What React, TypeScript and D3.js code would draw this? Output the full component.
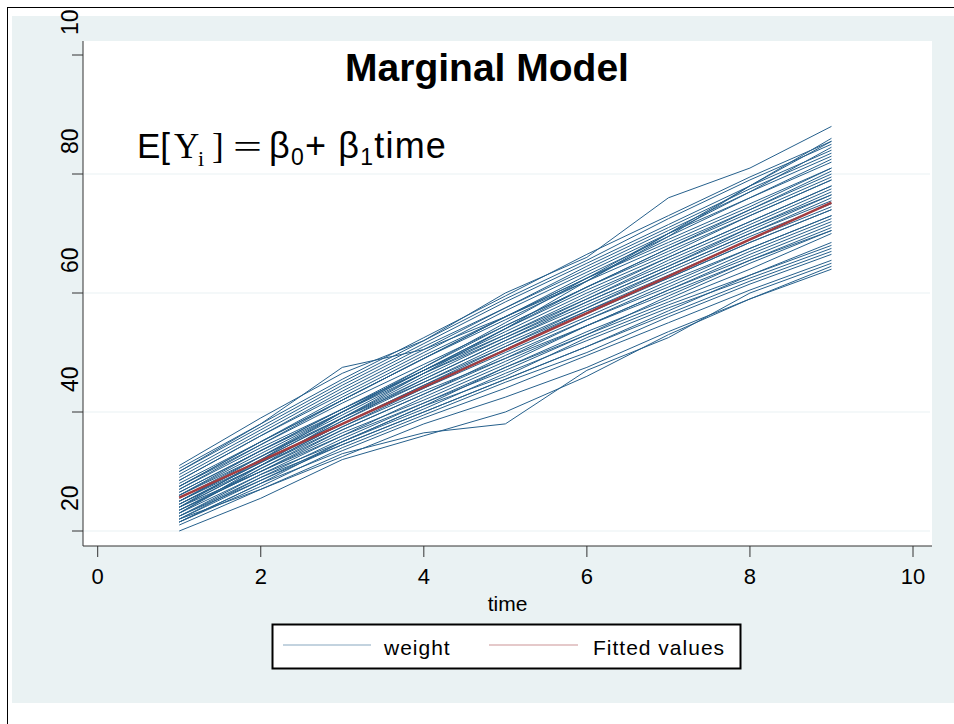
import React from "react";
import * as d3 from "d3";

// weeks measured for every pig
const weeks = [1, 2, 3, 4, 5, 6, 7, 8, 9];

// weight per pig, one row per animal
const pigWeights: number[][] = [
  [20, 25.5, 32, 36, 40, 46, 53, 59, 64],
  [21, 27, 32.5, 38, 42.5, 47.5, 53.5, 59, 64.5],
  [22, 27, 33, 36.5, 38, 47, 52.5, 60, 65],
  [21.5, 28, 33.5, 39, 44, 49.5, 55, 60.5, 65.5],
  [21.5, 27.5, 34, 39.5, 45, 50, 56, 61.5, 66.5],
  [22.5, 28.5, 34.5, 40, 45.5, 51, 56.5, 62, 67],
  [21.5, 28, 35, 40.5, 46.5, 52, 57.5, 62.5, 67.5],
  [23, 29.5, 35, 41, 46, 52.5, 58, 63, 68],
  [22, 29, 34.5, 40, 45.5, 51, 57, 63, 68.5],
  [24, 30, 36, 41.5, 47, 53, 58.5, 64, 70],
  [22.5, 29, 35.5, 41.5, 47.5, 53.5, 59, 65, 70.5],
  [22, 28.5, 35, 41, 47.5, 53, 59.5, 65.5, 70.5],
  [23.5, 30, 36.5, 42, 48, 54.5, 60, 65.5, 71],
  [24.5, 31, 37.5, 43.5, 49, 54.5, 60.5, 66, 71.5],
  [22.5, 29.5, 36, 42.5, 48.5, 54.5, 60.5, 66.5, 72],
  [23.5, 30, 37, 43, 49.5, 55.5, 61, 67, 72.5],
  [25, 31.5, 38, 44, 50, 56, 62, 67.5, 73],
  [23, 30.5, 37, 43, 49, 55.5, 61.5, 67.5, 73],
  [24, 31, 38, 44.5, 50.5, 56.5, 62.5, 68.5, 74],
  [26, 32.5, 39, 45, 51, 57, 62.5, 68.5, 74],
  [23.5, 30.5, 37.5, 44, 50.5, 57, 63, 69, 74.5],
  [24.5, 31.5, 38.5, 45, 51.5, 57.5, 63.5, 69.5, 75],
  [25, 32, 39, 45.5, 52, 58, 64, 70, 75.5],
  [24, 31, 38, 44.5, 51, 57.5, 64, 70, 76],
  [26.5, 33.5, 40, 46.5, 52.5, 58.5, 64.5, 70.5, 76.5],
  [24.5, 31.5, 38.5, 45.5, 52, 58.5, 64.5, 71, 76.5],
  [27, 34, 40.5, 47, 53, 59, 65, 71, 77],
  [25, 32, 39, 46, 52.5, 59, 65.5, 71.5, 77.5],
  [25.5, 32.5, 39.5, 46.5, 53, 59.5, 66, 72, 78],
  [26.5, 33.5, 40.5, 47, 53.5, 60, 66, 72, 78],
  [26, 33, 40, 47, 54, 60.5, 66.5, 73, 79],
  [27.5, 34.5, 41.5, 48, 54.5, 61, 67, 73, 79],
  [26, 33.5, 40.5, 47.5, 54.5, 61, 67.5, 73.5, 79.5],
  [27.5, 35, 42, 49, 55.5, 62, 68, 74, 80],
  [25, 32.5, 40, 47, 54, 61, 67.5, 74, 80.5],
  [28, 35, 42.5, 49.5, 56, 62.5, 68.5, 74.5, 81],
  [27.5, 35, 42, 49, 56, 62.5, 69, 75, 81],
  [28.5, 36, 43, 50, 57, 63.5, 70, 76, 82],
  [27, 34.5, 42, 49, 56, 63, 69.5, 76, 82.5],
  [29, 36.5, 44, 51, 57.5, 64, 70.5, 77, 83],
  [28.5, 36, 43.5, 50.5, 57.5, 64.5, 71, 77.5, 83.5],
  [29.5, 37, 44.5, 51.5, 58.5, 65, 71.5, 78, 84],
  [30, 38, 47.5, 50.5, 56, 62, 70, 77, 84.5],
  [30, 37.5, 45, 52, 59, 65.5, 72.5, 79, 85],
  [30.5, 38, 45.5, 52.5, 59.5, 66.5, 73, 79.5, 85.5],
  [24, 32, 40, 47.5, 55, 62.5, 70, 78, 85.5],
  [23, 31, 39, 46.5, 54, 62, 69.5, 78, 86],
  [31, 39, 46.5, 52, 60, 66, 76, 81, 88],
];

// fitted regression line ends
const fittedWeeks = [1, 9];
const fittedValues = [25.6, 75.2];

const xTicks = [0, 2, 4, 6, 8, 10];
const yTicks = [20, 40, 60, 80, 100];
const yGrid = [20, 40, 60, 80];

const SANS = "'Liberation Sans', Arial, Helvetica, sans-serif";
const SERIF = "'Liberation Serif', 'Times New Roman', serif";
const BLUE = "#26608c";
const RED = "#a33c3f";
const BG = "#eaf2f3";

export default function App() {
  const width = 954;
  const height = 724;
  const plot = { left: 83, top: 41, right: 932, bottom: 546 };

  const x = d3.scaleLinear().domain([0, 10]).range([97.7, 913]);
  const y = d3.scaleLinear().domain([20, 100]).range([531, 55]);

  const line = d3
    .line<[number, number]>()
    .x((d) => x(d[0]))
    .y((d) => y(d[1]));

  return (
    <svg
      width={width}
      height={height}
      style={{ position: "absolute", left: 0, top: 0, display: "block" }}
      fontFamily={SANS}
    >
      <defs>
        <clipPath id="frame">
          <rect x={8} y={10} width={width - 8} height={height - 10} />
        </clipPath>
      </defs>
      <rect width={width} height={height} fill="#fff" />
      <line x1={7} x2={width} y1={7.5} y2={7.5} stroke="#000" />
      <line x1={7.5} x2={7.5} y1={7} y2={height} stroke="#000" />

      <g clipPath="url(#frame)">
        <rect x={12} y={16} width={width - 12} height={687} fill={BG} />
        <rect
          x={plot.left}
          y={plot.top}
          width={plot.right - plot.left}
          height={plot.bottom - plot.top}
          fill="#fff"
        />

        {/* grid */}
        {yGrid.map((v) => (
          <line
            key={"g" + v}
            x1={plot.left}
            x2={plot.right - 2}
            y1={y(v)}
            y2={y(v)}
            stroke={BG}
            strokeWidth={1.2}
          />
        ))}

        {/* pig trajectories */}
        <g fill="none" stroke={BLUE} strokeWidth={1}>
          {pigWeights.map((row, i) => (
            <path key={i} d={line(weeks.map((w, j) => [w, row[j]]))!} />
          ))}
        </g>
        <path
          d={line(fittedWeeks.map((w, j) => [w, fittedValues[j]]))!}
          fill="none"
          stroke={RED}
          strokeWidth={2.4}
        />

        {/* axes */}
        <line x1={plot.left} x2={plot.left} y1={plot.top} y2={plot.bottom} stroke="#333" />
        <line x1={plot.left} x2={plot.right} y1={plot.bottom} y2={plot.bottom} stroke="#333" />
        {yTicks.map((v) => (
          <g key={"y" + v}>
            <line x1={72} x2={plot.left} y1={y(v)} y2={y(v)} stroke="#333" />
            <text
              transform={`translate(78,${y(v) - 20}) rotate(-90)`}
              textAnchor="start"
              fontSize={23}
              fill="#000"
            >
              {v}
            </text>
          </g>
        ))}
        {xTicks.map((v) => (
          <g key={"x" + v}>
            <line x1={x(v)} x2={x(v)} y1={plot.bottom} y2={plot.bottom + 11} stroke="#333" />
            <text x={x(v)} y={584} textAnchor="middle" fontSize={22} fill="#000">
              {v}
            </text>
          </g>
        ))}
        <text x={(plot.left + plot.right) / 2} y={611} textAnchor="middle" fontSize={21}>
          time
        </text>

        {/* titles */}
        <text x={487} y={81} textAnchor="middle" fontSize={39} fontWeight="bold">
          Marginal Model
        </text>
        <text y={158} fontSize={35}>
          <tspan x={137} fontFamily={SANS}>E[</tspan>
          <tspan x={174} fontFamily={SERIF}>Y</tspan>
          <tspan x={198} dy={8} fontFamily={SERIF} fontSize={22}>i</tspan>
          <tspan x={212} dy={-8} fontFamily={SERIF}>]</tspan>
        </text>
        <text
          x={233}
          y={158}
          fontSize={34}
          fontFamily={SERIF}
          textLength={29}
          lengthAdjust="spacingAndGlyphs"
        >
          =
        </text>
        <text x={269} y={158} fontSize={36} letterSpacing={1.2}>
          <tspan>β</tspan>
          <tspan dy={7} fontSize={23}>0</tspan>
          <tspan dy={-7}>+ β</tspan>
          <tspan dy={7} fontSize={23}>1</tspan>
          <tspan dy={-7}>time</tspan>
        </text>

        {/* legend */}
        <rect x={272.5} y={624.5} width={468} height={44} fill="#fff" stroke="#000" strokeWidth={2} />
        <line x1={283} x2={371} y1={645} y2={645} stroke={BLUE} strokeOpacity={0.55} />
        <text x={384} y={655} fontSize={21} letterSpacing={1}>weight</text>
        <line x1={489} x2={578} y1={645} y2={645} stroke={RED} strokeOpacity={0.55} />
        <text x={593} y={655} fontSize={21} letterSpacing={1}>Fitted values</text>
      </g>
    </svg>
  );
}
